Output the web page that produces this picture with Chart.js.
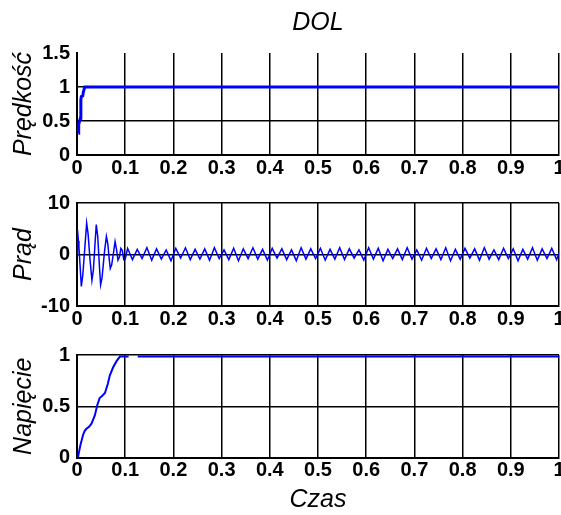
<!DOCTYPE html>
<html lang="pl">
<head>
    <meta charset="UTF-8">
    <title>DOL</title>
    <style>
        * {
            margin: 0;
            padding: 0;
            box-sizing: border-box;
        }

        body {
            background-color: white;
            width: 561px;
            height: 515px;
            overflow: hidden;
            position: relative;
        }

        canvas {
            position: absolute;
            left: 0;
        }
    </style>
</head>
<body>
    <canvas id="speedChart" width="561" height="180" style="top:0px"></canvas>
    <canvas id="currentChart" width="561" height="150" style="top:180px"></canvas>
    <canvas id="voltageChart" width="561" height="185" style="top:330px"></canvas>

    <script src="https://cdn.jsdelivr.net/npm/chart.js"></script>
    <script>
        // x axis (Czas)
        const xTicks = [0, 0.1, 0.2, 0.3, 0.4, 0.5, 0.6, 0.7, 0.8, 0.9, 1];
        const xTickLabels = ['0', '0.1', '0.2', '0.3', '0.4', '0.5', '0.6', '0.7', '0.8', '0.9', '1'];

        // Prędkość
        const speedTicks = [0, 0.5, 1, 1.5];
        const speedTickLabels = ['0', '0.5', '1', '1.5'];
        const speedTime = [0.003, 0.0035, 0.007, 0.008, 0.009, 0.012, 0.013, 0.016, 1.0];
        const speedValues = [0.32, 0.45, 0.54, 0.81, 0.86, 0.87, 0.92, 1.0, 1.0];

        // Prąd
        const currentTicks = [-10, 0, 10];
        const currentTickLabels = ['-10', '0', '10'];
        const currentTime = [
            0.000, 0.001, 0.003, 0.004, 0.009, 0.012, 0.016, 0.020, 0.023, 0.027,
            0.031, 0.034, 0.038, 0.040, 0.043, 0.047, 0.049, 0.052, 0.057, 0.061,
            0.064, 0.067, 0.069, 0.072, 0.076, 0.079, 0.082, 0.085, 0.088, 0.091,
            0.094, 0.097, 0.100,
            0.105, 0.115, 0.125, 0.135, 0.145, 0.155, 0.165, 0.175, 0.185, 0.195,
            0.205, 0.215, 0.225, 0.235, 0.245, 0.255, 0.265, 0.275, 0.285, 0.295,
            0.305, 0.315, 0.325, 0.335, 0.345, 0.355, 0.365, 0.375, 0.385, 0.395,
            0.405, 0.415, 0.425, 0.435, 0.445, 0.455, 0.465, 0.475, 0.485, 0.495,
            0.505, 0.515, 0.525, 0.535, 0.545, 0.555, 0.565, 0.575, 0.585, 0.595,
            0.605, 0.615, 0.625, 0.635, 0.645, 0.655, 0.665, 0.675, 0.685, 0.695,
            0.705, 0.715, 0.725, 0.735, 0.745, 0.755, 0.765, 0.775, 0.785, 0.795,
            0.805, 0.815, 0.825, 0.835, 0.845, 0.855, 0.865, 0.875, 0.885, 0.895,
            0.905, 0.915, 0.925, 0.935, 0.945, 0.955, 0.965, 0.975, 0.985, 0.995,
            1.000
        ];
        const currentValues = [
            0.0, 4.8, 2.6, 1.5, -6.2, -4.0, 1.0, 6.1, 4.0, -1.0,
            -5.0, -3.0, 3.0, 5.8, 3.5, -3.0, -5.9, -4.5, 0.5, 3.5,
            2.0, -1.0, -2.7, -2.0, 0.5, 2.5, 1.0, -1.1, -0.5, 1.2,
            0.8, -1.0, -0.9,
            1.2, -1.0, 1.0, -0.8, 1.3, -1.1, 1.1, -0.9, 0.9, -1.2,
            1.2, -0.7, 1.3, -1.0, 1.0, -0.9, 1.1, -1.1, 1.3, -0.8,
            0.9, -1.0, 1.2, -1.2, 1.1, -0.8, 1.3, -0.9, 1.0, -1.1,
            1.2, -0.7, 1.1, -1.0, 0.9, -1.2, 1.3, -0.9, 1.1, -0.8,
            1.2, -1.1, 1.0, -0.9, 1.3, -1.0, 1.1, -0.7, 0.9, -1.1,
            1.3, -0.9, 1.2, -1.2, 1.0, -0.8, 1.1, -1.0, 1.3, -0.9,
            0.9, -1.1, 1.2, -0.8, 1.1, -1.0, 1.3, -1.2, 1.0, -0.9,
            1.2, -0.7, 1.1, -1.1, 1.3, -0.9, 0.9, -1.0, 1.2, -0.8,
            1.1, -1.2, 1.0, -0.9, 1.3, -1.1, 1.1, -0.8, 1.2, -1.0,
            0.3
        ];

        // Napięcie
        const voltageTicks = [0, 0.5, 1];
        const voltageTickLabels = ['0', '0.5', '1'];
        const voltageTime = [
            0.002, 0.004, 0.007, 0.0125, 0.016, 0.0196, 0.025, 0.030, 0.037, 0.042,
            0.047, 0.052, 0.058, 0.064, 0.068, 0.075, 0.082, 0.089, 0.107, 0.115,
            0.126, 1.0
        ];
        const voltageValues = [
            0, 0.05, 0.12, 0.22, 0.26, 0.28, 0.30, 0.33, 0.41, 0.51,
            0.58, 0.60, 0.63, 0.72, 0.80, 0.88, 0.94, 0.985, 0.985, null,
            0.985, 0.985
        ];

        const tickFont = { family: "'Liberation Sans Narrow', 'Liberation Sans', Arial", weight: 'bold', size: 20 };
        const labelFont = { family: "'Liberation Sans', Arial", style: 'italic', size: 25 };

        function toPoints(xs, ys) {
            return xs.map((x, i) => ({ x: x, y: ys[i] }));
        }

        function buildChart(id, cfg) {
            return new Chart(document.getElementById(id), {
                type: 'line',
                data: {
                    datasets: [{
                        data: toPoints(cfg.time, cfg.values),
                        borderColor: '#0000ff',
                        borderWidth: cfg.lineWidth,
                        pointRadius: 0,
                        tension: 0,
                        spanGaps: false
                    }]
                },
                options: {
                    responsive: false,
                    animation: false,
                    devicePixelRatio: 1,
                    layout: { padding: { top: cfg.padTop, right: 2, bottom: 0, left: 0 } },
                    plugins: {
                        legend: { display: false },
                        tooltip: { enabled: false },
                        title: cfg.title || { display: false }
                    },
                    scales: {
                        x: {
                            type: 'linear',
                            min: 0,
                            max: 1,
                            afterBuildTicks: s => { s.ticks = xTicks.map(v => ({ value: v })); },
                            afterFit: s => { s.height = cfg.xHeight; s.paddingLeft = 0; s.paddingRight = 0; },
                            ticks: {
                                font: tickFont,
                                color: '#000',
                                padding: 1,
                                maxRotation: 0,
                                autoSkip: false,
                                callback: (v, i) => xTickLabels[i]
                            },
                            grid: { color: '#000', lineWidth: 1.5, drawTicks: false },
                            border: { color: '#000', width: 2 },
                            title: cfg.xTitle ? { display: true, text: cfg.xTitle, font: labelFont, color: '#000', padding: 0 } : { display: false }
                        },
                        y: {
                            type: 'linear',
                            min: cfg.yTicks[0],
                            max: cfg.yTicks[cfg.yTicks.length - 1],
                            afterBuildTicks: s => { s.ticks = cfg.yTicks.map(v => ({ value: v })); },
                            afterFit: s => { s.width = 77; s.paddingTop = 0; s.paddingBottom = 0; },
                            ticks: {
                                font: tickFont,
                                color: '#000',
                                padding: 7,
                                autoSkip: false,
                                callback: (v, i) => cfg.yLabels[i]
                            },
                            grid: {
                                color: ctx => (cfg.hideTop && ctx.tick && ctx.tick.value === cfg.yTicks[cfg.yTicks.length - 1]) ? 'rgba(0,0,0,0)' : '#000',
                                lineWidth: 1.5,
                                drawTicks: false
                            },
                            border: { color: '#000', width: 2 },
                            title: { display: true, text: cfg.yTitle, font: labelFont, color: '#000', padding: { top: 9, bottom: 0 } }
                        }
                    }
                }
            });
        }

        buildChart('speedChart', {
            time: speedTime, values: speedValues, lineWidth: 3,
            yTicks: speedTicks, yLabels: speedTickLabels, yTitle: 'Prędkość',
            padTop: 0, xHeight: 25, hideTop: true,
            title: {
                display: true, text: 'DOL', color: '#000', fullSize: false,
                font: { family: "'Liberation Sans', Arial", style: 'italic', weight: 'normal', size: 25 },
                padding: { top: 8, bottom: 15 }
            }
        });

        buildChart('currentChart', {
            time: currentTime, values: currentValues, lineWidth: 1.5,
            yTicks: currentTicks, yLabels: currentTickLabels, yTitle: 'Prąd',
            padTop: 23, xHeight: 24
        });

        buildChart('voltageChart', {
            time: voltageTime, values: voltageValues, lineWidth: 2,
            yTicks: voltageTicks, yLabels: voltageTickLabels, yTitle: 'Napięcie',
            padTop: 25, xHeight: 57.5, xTitle: 'Czas'
        });
    </script>
</body>
</html>
